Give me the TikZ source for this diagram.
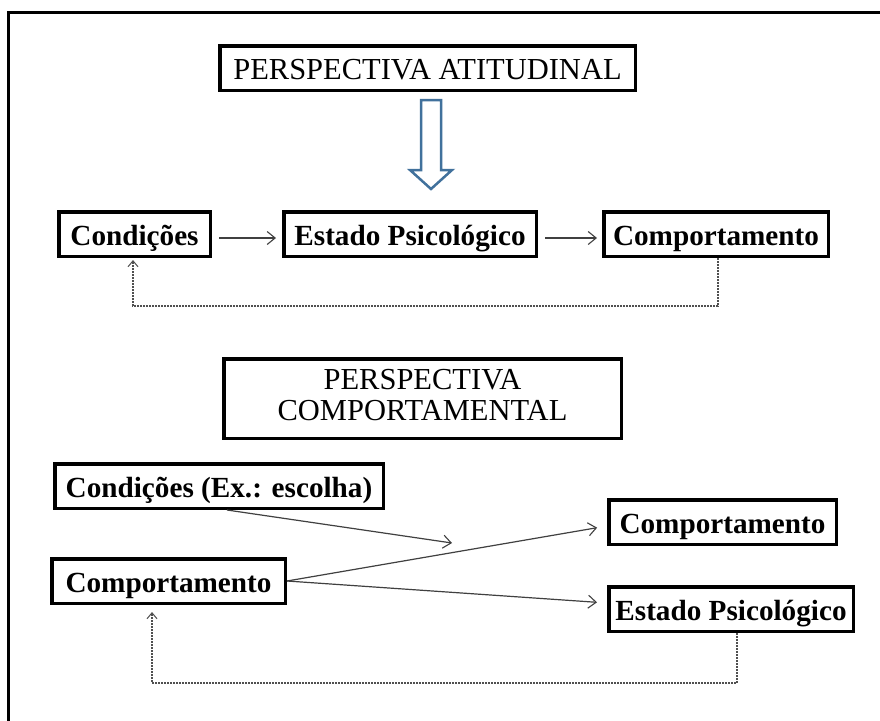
\documentclass[tikz,border=0pt]{standalone}
\usepackage{fontspec}
\setmainfont{Liberation Serif}
\usetikzlibrary{arrows.meta}
\definecolor{linegray}{RGB}{64,64,64}
\definecolor{dashgray}{RGB}{80,80,80}
\definecolor{arrowblue}{RGB}{65,113,156}
\tikzset{
  box/.style={draw=black, line width=3.5pt, inner sep=0pt, fill=white,
    text height=22pt, text depth=0pt,
    font=\bfseries\fontsize{29.2}{33}\selectfont},
  titlebox/.style={draw=black, line width=3.5pt, inner sep=0pt, fill=white,
    align=center, font=\fontsize{30.5}{33}\selectfont},
  arr/.style={draw=linegray, line width=1.2pt, -{Straight Barb[length=8pt,width=13pt,line width=1.1pt]}},
  fb/.style={draw=dashgray, line width=1.1pt, dash pattern=on 2pt off 1pt,
    -{Straight Barb[length=6pt,width=10pt,line width=1pt]}}
}
\begin{document}
\begin{tikzpicture}[x=1pt,y=-1pt]
\useasboundingbox (0,0) rectangle (880,720);
\clip (0,0) rectangle (880,720);
\fill[white] (0,0) rectangle (880,720);
% outer frame
\draw[line width=3pt] (8,12) rectangle (900,740);

% top section
\node[titlebox, text height=22pt, text depth=0pt, minimum width=415.5pt, minimum height=44.5pt] (t1) at (427.5,68) {PERSPECTIVA ATITUDINAL};
\draw[arrowblue, line width=2.5pt, fill=white, line join=miter]
  (421,100) -- (441,100) -- (441,170) -- (452,170) -- (431,189) -- (410,170) -- (421,170) -- cycle;

\node[box, minimum width=151.5pt, minimum height=44.5pt] (c1) at (134.5,234) {Condições};
\node[box, minimum width=252.5pt, minimum height=44.5pt] (e1) at (410,234) {Estado Psicológico};
\node[box, minimum width=224.5pt, minimum height=44.5pt] (p1) at (716,234) {Comportamento};

\draw[arr, shorten <=7pt, shorten >=6pt] ([yshift=-4pt]c1.east) -- ([yshift=-4pt]e1.west);
\draw[arr, shorten <=7pt, shorten >=5pt] ([yshift=-4pt]e1.east) -- ([yshift=-4pt]p1.west);
\draw[fb, shorten >=2pt] ([xshift=2pt]p1.south) -- ++(0,48) -| ([xshift=-1.5pt]c1.south);

% bottom section
\node[titlebox, minimum width=397.5pt, minimum height=79.5pt] (t2) at (422.5,398.5)
  {\begin{tabular}{@{}c@{}}PERSPECTIVA\\[-2pt]COMPORTAMENTAL\end{tabular}};

\node[box, minimum width=328.5pt, minimum height=44.5pt] (c2) at (219,486) {Condições (Ex.: escolha)};
\node[box, minimum width=233.5pt, minimum height=44.5pt] (p2l) at (168.5,581) {Comportamento};
\node[box, minimum width=227.5pt, minimum height=44.5pt] (p2r) at (722.5,522) {Comportamento};
\node[box, minimum width=244.5pt, minimum height=44.5pt] (e2) at (731,609) {Estado Psicológico};

\coordinate (m) at (452,543);
\draw[arr] ([xshift=8pt]c2.south) -- (m);
\draw[arr, shorten >=10pt] (p2l.east) -- ([yshift=-4pt]p2r.west);
\draw[arr, shorten >=10pt] (p2l.east) -- ([yshift=6pt]e2.west);
\draw[fb, shorten >=7pt] ([xshift=6pt]e2.south) -- ++(0,50) -| ([xshift=-16.5pt]p2l.south);
\end{tikzpicture}
\end{document}
